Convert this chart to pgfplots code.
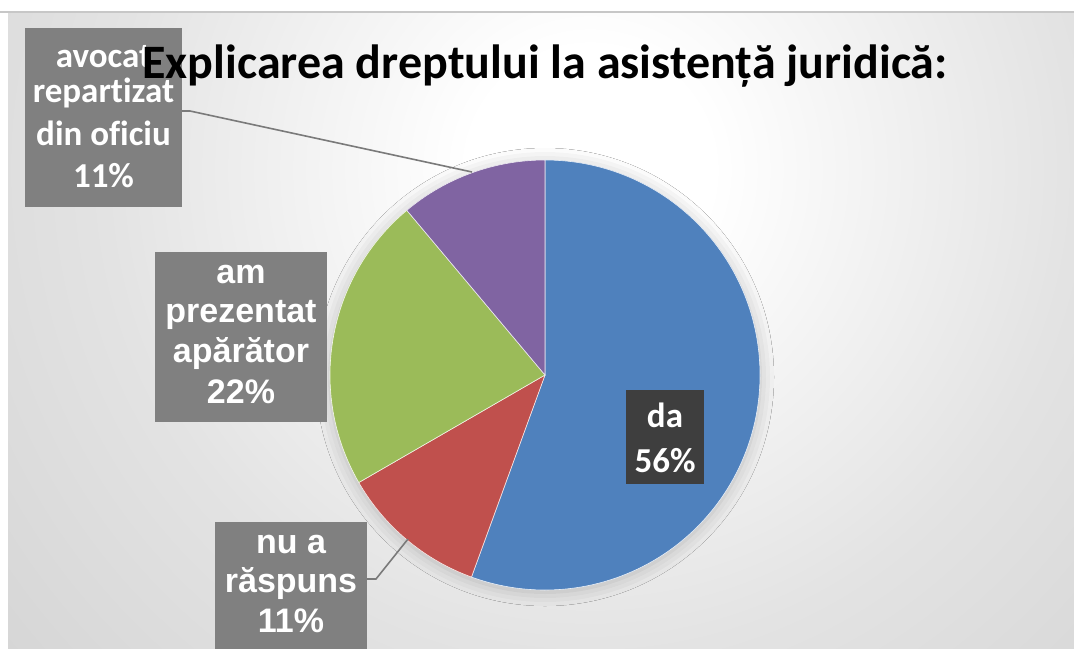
\documentclass[border=0pt]{standalone}
\usepackage{pgfplots}
\pgfplotsset{compat=1.18}
\usepackage{pgfplotstable}
\usetikzlibrary{shadows.blur}
\usepackage{fontspec}
\setmainfont{Carlito}[Ligatures=NoCommon]
\newfontfamily\arialf{Liberation Sans}

\definecolor{pblue}{HTML}{4F81BD}
\definecolor{pred}{HTML}{C0504D}
\definecolor{pgreen}{HTML}{9BBB59}
\definecolor{ppurple}{HTML}{8064A2}
\definecolor{boxgray}{HTML}{808080}
\definecolor{boxdark}{HTML}{3E3E3E}
\definecolor{leader}{HTML}{7A7A7A}

\pgfdeclareradialshading{bgshade}{\pgfpoint{0bp}{0bp}}{%
  color(0bp)=(white); color(4bp)=(white); color(16bp)=(black!11);
  color(30bp)=(black!19); color(50bp)=(black!28)}

% answers, counted (9 people in all)
\pgfplotstableread{
label value
da 5
nu 1
am 2
avocat 1
}\piedata
\pgfplotstablegetelem{0}{value}\of\piedata\edef\vA{\pgfplotsretval}
\pgfplotstablegetelem{1}{value}\of\piedata\edef\vB{\pgfplotsretval}
\pgfplotstablegetelem{2}{value}\of\piedata\edef\vC{\pgfplotsretval}
\pgfplotstablegetelem{3}{value}\of\piedata\edef\vD{\pgfplotsretval}
\pgfmathsetmacro\tot{\vA+\vB+\vC+\vD}
% slices run clockwise from twelve o'clock
\pgfmathsetmacro\aA{90}
\pgfmathsetmacro\aB{\aA-360*\vA/\tot}
\pgfmathsetmacro\aC{\aB-360*\vB/\tot}
\pgfmathsetmacro\aD{\aC-360*\vC/\tot}
\pgfmathsetmacro\aE{\aD-360*\vD/\tot}
\pgfmathtruncatemacro\pA{round(100*\vA/\tot)}
\pgfmathtruncatemacro\pB{round(100*\vB/\tot)}
\pgfmathtruncatemacro\pC{round(100*\vC/\tot)}
\pgfmathtruncatemacro\pD{round(100*\vD/\tot)}
\def\R{107.5pt}
\newcommand\lab[4]{\node[anchor=base, text=white, font=#1] at (axis cs:#2,#3) {#4};}

\begin{document}
\begin{tikzpicture}
\path[use as bounding box] (0,0) rectangle (537pt,324pt);
\begin{axis}[name=ax, at={(0,0)}, anchor=south west,
    hide axis, scale only axis,
    width=537pt, height=324pt,
    xmin=0, xmax=1074, ymin=0, ymax=648, y dir=reverse, clip=false]
  \fill[white] (axis cs:0,0) rectangle (axis cs:1074,648);
  \begin{scope}
    \clip (axis cs:8,12) rectangle (axis cs:1074,648);
    \shade[shading=bgshade] (axis cs:590,170) circle (380pt);
  \end{scope}
  \draw[black!22, line width=0.6pt] (axis cs:0,12) -- (axis cs:1074,12);

  % pie
  \path[fill=white, blur shadow={shadow xshift=0pt, shadow yshift=-1pt,
      shadow blur radius=7pt, shadow opacity=22}]
    (axis cs:545,375) circle (\R);
  \fill[pblue, draw=white!85!pblue, line width=0.3pt] (axis cs:545,375)
    -- ++(\aA:\R) arc[start angle=\aA, end angle=\aB, radius=\R] -- cycle;
  \fill[pred, draw=white!85!pred, line width=0.3pt] (axis cs:545,375)
    -- ++(\aB:\R) arc[start angle=\aB, end angle=\aC, radius=\R] -- cycle;
  \fill[pgreen, draw=white!85!pgreen, line width=0.3pt] (axis cs:545,375)
    -- ++(\aC:\R) arc[start angle=\aC, end angle=\aD, radius=\R] -- cycle;
  \fill[ppurple, draw=white!85!ppurple, line width=0.3pt] (axis cs:545,375)
    -- ++(\aD:\R) arc[start angle=\aD, end angle=\aE, radius=\R] -- cycle;

  % leader lines
  \draw[leader, line width=0.8pt] (axis cs:182,111) -- (axis cs:190,111)
    -- (axis cs:472,172);
  \draw[leader, line width=0.8pt] (axis cs:366,579) -- (axis cs:376,579)
    -- (axis cs:408,539);

  % label boxes
  \begin{scope}[blur shadow={shadow xshift=0pt, shadow yshift=0pt,
      shadow blur radius=4pt, shadow opacity=45}]
    \fill[boxgray] (axis cs:25,28) rectangle (axis cs:182,207);
    \fill[boxgray] (axis cs:155,252) rectangle (axis cs:327,422);
    \fill[boxgray] (axis cs:215,522) rectangle (axis cs:367,670);
    \fill[boxdark] (axis cs:626,390) rectangle (axis cs:704,484);
  \end{scope}

  \def\cf{\fontsize{17.5}{20}\selectfont\bfseries}
  \def\af{\arialf\fontsize{17}{20}\selectfont\bfseries}
  \lab{\cf}{103.5}{67}{avocat}
  \lab{\cf}{103.5}{102}{repartizat}
  \lab{\cf}{103.5}{145}{din oficiu}
  \lab{\cf}{103.5}{187}{\pD\%}
  \lab{\af}{241}{283}{am}
  \lab{\af}{241}{322}{prezentat}
  \lab{\af}{241}{362}{apărător}
  \lab{\af}{241}{403}{\pC\%}
  \lab{\af}{291}{553}{nu a}
  \lab{\af}{291}{592}{răspuns}
  \lab{\af}{291}{632}{\pB\%}
  \lab{\cf}{665}{427}{da}
  \lab{\cf}{665}{472}{\pA\%}

  \node[anchor=base, font=\fontsize{24}{24}\selectfont\bfseries]
    at (axis cs:545,78) {Explicarea dreptului la asistență juridică:};
\end{axis}
\end{tikzpicture}
\end{document}
